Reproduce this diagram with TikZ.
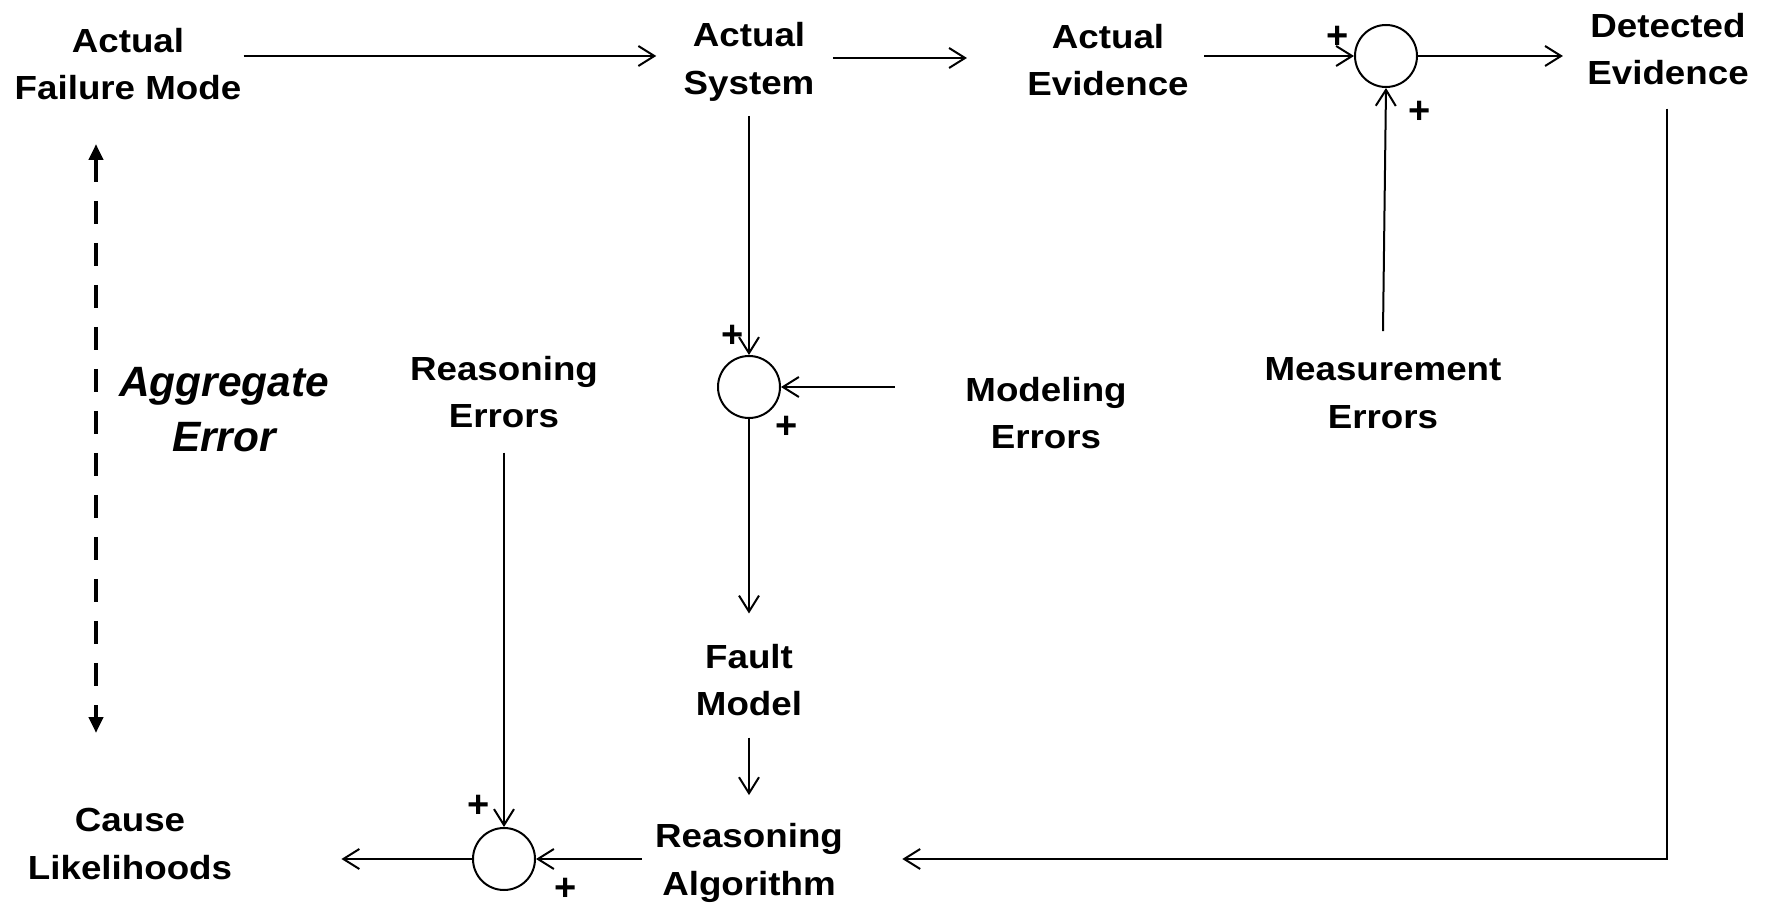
\documentclass[tikz,border=0pt]{standalone}
\usepackage{fontspec}
\newfontfamily\labfont{Liberation Sans}[FakeStretch=1.1]
\newfontfamily\aggfont{Liberation Sans}
\usetikzlibrary{arrows.meta,calc}
\tikzset{
  lbl/.style={font=\labfont\bfseries\fontsize{16.7}{23.85}\selectfont, align=center, inner sep=0pt},
  agg/.style={font=\aggfont\bfseries\itshape\fontsize{21.2}{27.5}\selectfont, align=center, inner sep=0pt},
  plus/.style={font=\aggfont\bfseries\fontsize{19}{20}\selectfont, inner sep=0pt},
  sumc/.style={draw, circle, minimum size=31pt, inner sep=0pt, line width=1pt},
  arr/.style={line width=1pt, -{Straight Barb[length=8pt,width=10pt]}},
  dasharr/.style={line width=2.4pt, dash pattern=on 11.5pt off 9.5pt,
     {Triangle[length=8pt,width=7pt]}-{Triangle[length=8pt,width=7pt]}}
}
\begin{document}
\begin{tikzpicture}[x=0.5pt,y=-0.5pt]
\useasboundingbox (0,0) rectangle (1767,908);
\fill[white] (0,0) rectangle (1767,908);
% text nodes
\node[lbl] (afm) at (128,64) {Actual\\Failure Mode};
\node[lbl] (as) at (749,62) {Actual\\System};
\node[lbl] (ae) at (1108,60) {Actual\\Evidence};
\node[lbl] (de) at (1668,49) {Detected\\Evidence};
\node[lbl] (re) at (504,392) {Reasoning\\Errors};
\node[lbl] (moe) at (1046,413) {Modeling\\Errors};
\node[lbl] (mee) at (1383,393) {Measurement\\Errors};
\node[lbl] (fm) at (749,680) {Fault\\Model};
\node[lbl] (ra) at (749,863) {Reasoning\\Algorithm};
\node[lbl] (cl) at (130,844) {Cause\\Likelihoods};
\node[agg] (age) at (224,410) {Aggregate\\Error};
% summing junctions
\node[sumc] (s1) at (1386,56) {};
\node[sumc] (s2) at (749,387) {};
\node[sumc] (s3) at (504,859) {};
% plus signs
\node[plus] (p1a) at (1338,37) {+};
\node[plus] (p1b) at (1420,112) {+};
\node[plus] (p2a) at (733,336) {+};
\node[plus] (p2b) at (787,427) {+};
\node[plus] (p3a) at (479,806) {+};
\node[plus] (p3b) at (566,889) {+};
% dashed double arrow
\coordinate (dtop) at (96,144);
\coordinate (dbot) at (96,733);
\draw[dasharr] (dtop) -- (dbot);
% connectors
\draw[arr] ($(afm.east |- s1)+(2,0)$) -- ($(as.west |- s1)+(-27,0)$);
\draw[arr] ($(as.east |- s1)+(18,2)$) -- ($(ae.west |- s1)+(-60,2)$);
\draw[arr] ($(ae.east |- s1)+(15,0)$) -- (s1.west);
\draw[arr] (s1.east) -- ($(de.west |- s1)+(-24,0)$);
\draw[arr] ($(mee.north)+(0,-26)$) -- (s1.south);
\draw[arr] ($(de.south)+(-1,23)$) |- ($(ra.east |- s3)+(59,0)$);
\draw[arr] ($(as.south)+(0,14)$) -- (s2.north);
\draw[arr] ($(moe.west |- s2)+(-70,0)$) -- (s2.east);
\draw[arr] (s2.south) -- ($(fm.north)+(0,-30)$);
\draw[arr] ($(fm.south)+(0,21)$) -- ($(ra.north)+(0,-28)$);
\draw[arr] ($(ra.west |- s3)+(-13,0)$) -- (s3.east);
\draw[arr] (s3.west) -- ($(cl.east |- s3)+(109,0)$);
\draw[arr] ($(re.south)+(0,24)$) -- (s3.north);
\end{tikzpicture}
\end{document}
